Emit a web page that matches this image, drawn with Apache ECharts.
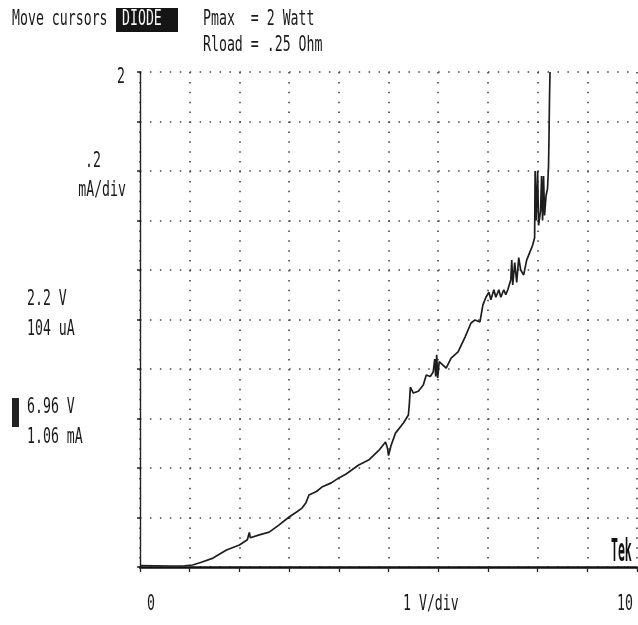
<!DOCTYPE html>
<html>
<head>
<meta charset="utf-8">
<script src="https://cdn.jsdelivr.net/npm/echarts@6/dist/echarts.min.js"></script>
<style>
  html, body { margin: 0; padding: 0; background: #fff; }
  #chart { width: 638px; height: 625px; }
</style>
</head>
<body>
<div id="chart"></div>
<script>
// Diode forward curve: collector voltage (V) against current (mA)
const voltage = [
  0, 0.3, 0.6, 0.9, 1.06, 1.25, 1.47, 1.74, 2.0, 2.16, 2.2, 2.22, 2.25, 2.4, 2.6, 2.8,
  3.0, 3.15, 3.26, 3.34, 3.4, 3.55, 3.66, 3.85, 4.0, 4.14, 4.26, 4.4, 4.6, 4.8, 4.94,
  4.98, 5.0, 5.05, 5.14, 5.3, 5.4, 5.42, 5.44, 5.5, 5.6, 5.7, 5.76, 5.84, 5.9, 5.93,
  5.95, 5.97, 5.99, 6.02, 6.06, 6.16, 6.26, 6.4, 6.54, 6.66, 6.74, 6.84, 6.9, 6.96,
  7.02, 7.06, 7.12, 7.16, 7.22, 7.26, 7.32, 7.36, 7.4, 7.46, 7.48, 7.5, 7.54, 7.58,
  7.62, 7.66, 7.72, 7.78, 7.84, 7.9, 7.94, 7.95, 7.97, 8.0, 8.02, 8.06, 8.08, 8.1,
  8.12, 8.14, 8.17, 8.2, 8.22, 8.23, 8.24, 8.25
];
const current = [
  0.006, 0.005, 0.004, 0.005, 0.008, 0.02, 0.036, 0.069, 0.089, 0.11, 0.14, 0.118, 0.12, 0.13, 0.141, 0.17,
  0.202, 0.222, 0.238, 0.26, 0.291, 0.305, 0.323, 0.34, 0.36, 0.375, 0.392, 0.412, 0.432, 0.47, 0.505,
  0.48, 0.45, 0.49, 0.541, 0.582, 0.614, 0.66, 0.727, 0.703, 0.71, 0.735, 0.776, 0.77, 0.788, 0.84,
  0.77, 0.857, 0.764, 0.83, 0.836, 0.804, 0.844, 0.869, 0.929, 0.986, 0.998, 0.99, 1.059, 1.09,
  1.11, 1.08, 1.12, 1.09, 1.12, 1.09, 1.12, 1.10, 1.12, 1.16, 1.24, 1.14, 1.23, 1.15,
  1.25, 1.20, 1.18, 1.24, 1.27, 1.30, 1.33, 1.60, 1.40, 1.60, 1.38, 1.44, 1.58, 1.40,
  1.58, 1.42, 1.50, 1.53, 1.62, 1.75, 1.9, 2.0
];

// Screen annotations of the curve tracer
const xEndLabels = ['0', '10'];
const xScaleText = '1 V/div';
const yTopLabel = '2';
const yScaleText = ['.2', 'mA/div'];
const cursorA = ['2.2 V', '104 uA'];
const cursorB = ['6.96 V', '1.06 mA'];
const headerLeft = 'Move cursors';
const headerMode = 'DIODE';
const headerRight = ['Pmax  = 2 Watt', 'Rload = .25 Ohm'];

const MONO = 'DejaVu Sans Mono';
function label(text, x, y, align, opts) {
  opts = opts || {};
  return {
    type: 'text', x: x, y: y, z: 10,
    scaleX: opts.scaleX || 0.63,
    style: {
      text: text,
      font: (opts.weight || 'normal') + ' ' + (opts.size || 21) + 'px "' + (opts.family || MONO) + '"',
      fill: opts.fill || '#1a1a1a',
      align: align, verticalAlign: 'middle',
      textAlign: align, textVerticalAlign: 'middle'
    }
  };
}

const pairs = voltage.map((v, i) => [v, current[i]]);

const chart = echarts.init(document.getElementById('chart'), null, { renderer: 'canvas' });
chart.setOption({
  backgroundColor: '#ffffff',
  animation: false,
  grid: { left: 140, top: 72, width: 497, height: 495, containLabel: false },
  xAxis: {
    type: 'value', min: 0, max: 10, interval: 1,
    axisLine: { show: true, onZero: false, lineStyle: { color: '#111', width: 2.5 } },
    axisTick: { show: true, length: 5, lineStyle: { color: '#222', width: 1.3 } },
    axisLabel: { show: false },
    splitLine: { show: true, lineStyle: { color: '#444', width: 1.6, type: [1.5, 8.4] } }
  },
  yAxis: {
    type: 'value', min: 0, max: 2, interval: 0.2,
    axisLine: { show: true, onZero: false, lineStyle: { color: '#222', width: 1.4 } },
    axisTick: { show: true, length: 3, lineStyle: { color: '#222', width: 1.5 } },
    axisLabel: { show: false },
    splitLine: { show: true, lineStyle: { color: '#444', width: 1.6, type: [1.5, 8.44] } }
  },
  series: [{
    type: 'line',
    data: pairs,
    showSymbol: false,
    clip: true,
    lineStyle: { color: '#1e1e1e', width: 1.7 },
    z: 5
  }],
  graphic: [
    label(headerLeft, 12, 20, 'left'),
    { type: 'rect', shape: { x: 116, y: 8, width: 62, height: 24 }, style: { fill: '#151515' }, z: 9 },
    label(headerMode, 122, 20, 'left', { fill: '#f4f4f4' }),
    label(headerRight[0], 203, 20, 'left'),
    label(headerRight[1], 203, 46, 'left'),
    label(yTopLabel, 125, 78, 'right'),
    label(yScaleText[0], 101, 162, 'right'),
    label(yScaleText[1], 126, 191, 'right'),
    label(cursorA[0], 27, 300, 'left'),
    label(cursorA[1], 27, 330, 'left'),
    { type: 'rect', shape: { x: 12, y: 398, width: 7, height: 29 }, style: { fill: '#222' }, z: 9 },
    label(cursorB[0], 27, 408, 'left'),
    label(cursorB[1], 27, 438, 'left'),
    label(xEndLabels[0], 147, 605, 'left'),
    label(xScaleText, 403, 605, 'left'),
    label(xEndLabels[1], 617, 605, 'left'),
    label('Tek', 611, 553, 'left', { size: 32, weight: 'bold', scaleX: 0.36, fill: '#111' })
  ]
});
</script>
</body>
</html>
